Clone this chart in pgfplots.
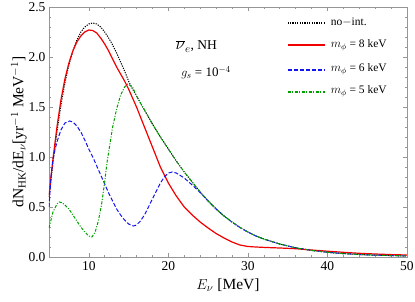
\documentclass[border=0pt]{standalone}
\usepackage{pgfplots}
\pgfplotsset{compat=1.18}
\usepackage{fontspec}
\setmainfont{Liberation Serif}
\definecolor{frame}{RGB}{150,150,150}
\definecolor{mred}{RGB}{240,0,0}
\definecolor{mblue}{RGB}{20,20,240}
\definecolor{mgreen}{RGB}{0,160,0}
\pgfplotsset{
  noint/.style={color=black, line width=1pt, dash pattern=on 1.2pt off 1.2pt},
  eight/.style={color=mred, line width=1.2pt},
  six/.style={color=mblue, line width=1pt, dash pattern=on 4pt off 2pt},
  five/.style={color=mgreen, line width=1pt, dash pattern=on 3pt off 1.5pt on 1pt off 1.5pt},
}
\begin{document}
\begin{tikzpicture}
\begin{axis}[
  at={(0,0)}, anchor=south west,
  scale only axis, width=358pt, height=250pt,
  xmin=5, xmax=50, ymin=0, ymax=2.5,
  xtick={10,20,30,40,50}, ytick={0,0.5,1,1.5,2,2.5},
  yticklabels={0.0,0.5,1.0,1.5,2.0,2.5},
  minor x tick num=4, minor y tick num=4,
  tick align=inside,
  major tick length=4pt, minor tick length=2pt,
  axis line style={frame, line width=0.6pt},
  every tick/.style={frame, line width=0.5pt},
  /pgf/number format/assume math mode=true,
  tick label style={font=\fontsize{13.5}{15}\selectfont},
  xticklabel style={yshift=-1pt},
  xlabel={$E_\nu$ [MeV]},
  ylabel={dN$_{\mathrm{HK}}$/dE$_\nu$[yr$^{-1}$ MeV$^{-1}$]},
  label style={font=\fontsize{15.5}{17}\selectfont},
  xlabel style={yshift=-1pt},
  ylabel style={yshift=-5pt},
]
\addplot[noint] coordinates {
(5,0.6) (5.5,0.95) (6,1.25) (6.5,1.52) (7,1.74) (7.5,1.92) (8,2.06) (8.5,2.17) (9,2.25) (9.5,2.3) (10,2.33) (10.5,2.34) (11,2.33) (11.5,2.3) (12,2.25) (12.5,2.19) (13,2.12) (13.5,2.04) (14,1.95) (14.5,1.86) (15,1.76) (15.5,1.68) (16,1.61) (17,1.47) (18,1.33) (19,1.2) (20,1.08) (21,0.96) (22,0.85) (23,0.75) (24,0.65) (25,0.56) (26,0.48) (27,0.41) (28,0.35) (29,0.295) (30,0.25) (31,0.21) (32,0.18) (34,0.13) (36,0.092) (38,0.066) (40,0.047) (42,0.034) (45,0.021) (50,0.01)};
\addplot[eight] coordinates {
(5,0.6) (5.25,0.8) (5.5,0.98) (6,1.3) (6.5,1.57) (7,1.78) (7.5,1.94) (8,2.06) (8.5,2.15) (9,2.21) (9.5,2.25) (10,2.27) (10.5,2.265) (11,2.24) (11.5,2.19) (12,2.13) (12.5,2.06) (13,1.98) (13.5,1.9) (14,1.83) (14.5,1.76) (15,1.68) (15.5,1.59) (16,1.5) (16.5,1.4) (17,1.3) (17.5,1.2) (18,1.1) (18.5,1.0) (19,0.9) (19.5,0.82) (20,0.74) (21,0.61) (22,0.5) (23,0.42) (24,0.35) (25,0.29) (26,0.235) (27,0.19) (28,0.15) (29,0.12) (30,0.105) (31,0.1) (32,0.096) (34,0.09) (36,0.083) (38,0.07) (40,0.058) (42,0.047) (44,0.037) (46,0.03) (48,0.024) (50,0.02)};
\addplot[six] coordinates {
(5,0.5) (5.25,0.8) (5.5,0.97) (5.75,1.07) (6,1.15) (6.5,1.27) (7,1.34) (7.6,1.36) (8,1.35) (8.5,1.31) (9,1.25) (9.5,1.17) (10,1.08) (10.5,1.0) (11,0.91) (11.5,0.82) (12,0.73) (12.5,0.64) (13,0.56) (13.5,0.48) (14,0.42) (14.5,0.37) (15,0.33) (15.6,0.31) (16,0.32) (16.5,0.36) (17,0.42) (17.5,0.5) (18,0.58) (18.5,0.66) (19,0.74) (19.5,0.8) (20,0.84) (20.5,0.85) (21,0.84) (22,0.79) (23,0.72) (24,0.645) (25,0.56) (26,0.48) (27,0.41) (28,0.35) (29,0.295) (30,0.25) (31,0.21) (32,0.18) (34,0.13) (36,0.092) (38,0.066) (40,0.047) (42,0.034) (45,0.021) (50,0.01)};
\addplot[five] coordinates {
(5,0.29) (5.5,0.45) (6,0.53) (6.3,0.55) (6.7,0.54) (7,0.52) (7.5,0.48) (8,0.42) (8.5,0.36) (9,0.3) (9.5,0.25) (10,0.21) (10.4,0.2) (10.8,0.25) (11.2,0.36) (11.6,0.52) (12,0.75) (12.3,0.95) (12.7,1.15) (13,1.3) (13.5,1.48) (14,1.62) (14.5,1.7) (14.9,1.73) (15.5,1.7) (16,1.61) (17,1.47) (18,1.33) (19,1.2) (20,1.08) (21,0.96) (22,0.85) (23,0.75) (24,0.65) (25,0.56) (26,0.48) (27,0.41) (28,0.35) (29,0.295) (30,0.25) (31,0.21) (32,0.18) (34,0.13) (36,0.092) (38,0.066) (40,0.047) (42,0.034) (45,0.021) (50,0.01)};
% legend samples, drawn in axis units
\addplot[noint, line width=1.2pt] coordinates {(35.0,2.34) (39.65,2.34)};
\addplot[eight, line width=1.6pt] coordinates {(35.0,2.12) (39.65,2.12)};
\addplot[color=mblue, line width=2pt, dash pattern=on 4pt off 2pt] coordinates {(35.0,1.87) (39.65,1.87)};
\addplot[color=mgreen, line width=2pt, dash pattern=on 3pt off 1.5pt on 1pt off 1.5pt] coordinates {(35.0,1.65) (39.65,1.65)};
\begin{scope}[every node/.style={anchor=west, inner sep=0pt, font=\fontsize{11.5}{13}\selectfont}]
\node at (axis cs:40.4,2.345) {no$-$int.};
\node at (axis cs:40.4,2.12) {$m_\phi$ = 8 keV};
\node at (axis cs:40.4,1.875) {$m_\phi$ = 6 keV};
\node at (axis cs:40.4,1.655) {$m_\phi$ = 5 keV};
\end{scope}
\node[anchor=base west, inner sep=0pt] at (axis cs:20.9,2.07) {\fontsize{16}{18}\selectfont$\overline{\nu}_e$\fontsize{13.5}{15}\selectfont, NH};
\node[anchor=base west, inner sep=0pt] at (axis cs:21.6,1.8) {\fontsize{13}{15}\selectfont$g_s$ = 10$^{-4}$};
\end{axis}
\pgfresetboundingbox
\path (-49pt,-45pt) rectangle (366pt,257pt);
\end{tikzpicture}
\end{document}
